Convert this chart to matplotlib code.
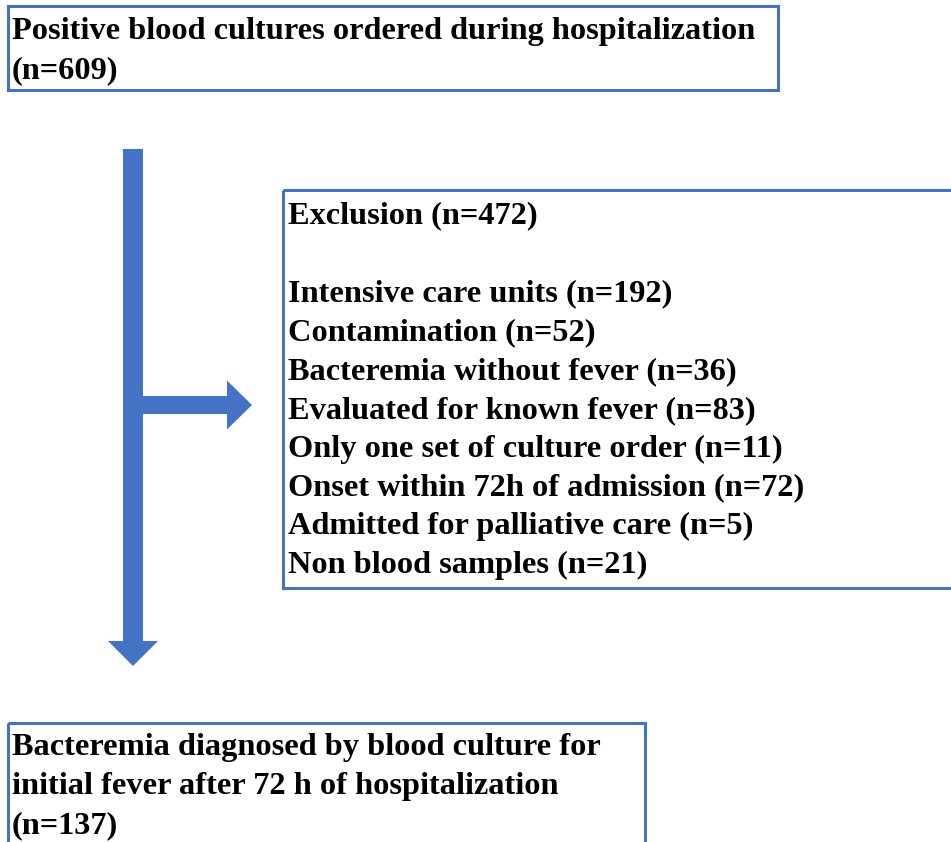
import matplotlib.pyplot as plt
from matplotlib.patches import Rectangle, FancyArrow

# flowchart content
top_lines = ["Positive blood cultures ordered during hospitalization", "(n=609)"]
excl_title = "Exclusion (n=472)"
excl_reasons = ["Intensive care units", "Contamination", "Bacteremia without fever",
                "Evaluated for known fever", "Only one set of culture order",
                "Onset within 72h of admission", "Admitted for palliative care",
                "Non blood samples"]
excl_counts = [192, 52, 36, 83, 11, 72, 5, 21]
bottom_lines = ["Bacteremia diagnosed by blood culture for",
                "initial fever after 72 h of hospitalization", "(n=137)"]

blue = "#4472C4"
W, H = 951, 842

fig = plt.figure(figsize=(W / 100, H / 100), dpi=100)
ax = fig.add_axes([0, 0, 1, 1])
ax.set_xlim(0, W)
ax.set_ylim(H, 0)
ax.axis("off")

font = dict(family="Liberation Serif", weight="bold", size=23.3, color="black", va="center", ha="left")
step = 38.8

# boxes
ax.add_patch(Rectangle((8, 6), 770, 84, fill=False, ec=blue, lw=2.2))
ax.add_patch(Rectangle((283, 190), 700, 398, fill=False, ec=blue, lw=2.2, clip_on=True))
ax.add_patch(Rectangle((8, 723), 637, 140, fill=False, ec=blue, lw=2.2, clip_on=True))

for i, t in enumerate(top_lines):
    ax.text(12, 32 + i * step, t, **font)

ax.text(288, 216, excl_title, **font)
for i, (r, c) in enumerate(zip(excl_reasons, excl_counts)):
    ax.text(288, 294 + i * step, f"{r} (n={c})", **font)

for i, t in enumerate(bottom_lines):
    ax.text(12, 748 + i * step, t, **font)

# arrows
ax.add_patch(FancyArrow(133, 149, 0, 517, width=20, head_width=50, head_length=25,
                        length_includes_head=True, color=blue, lw=0))
ax.add_patch(FancyArrow(143, 405, 109, 0, width=18, head_width=49, head_length=25,
                        length_includes_head=True, color=blue, lw=0))

fig.savefig("out.png", dpi=100)
